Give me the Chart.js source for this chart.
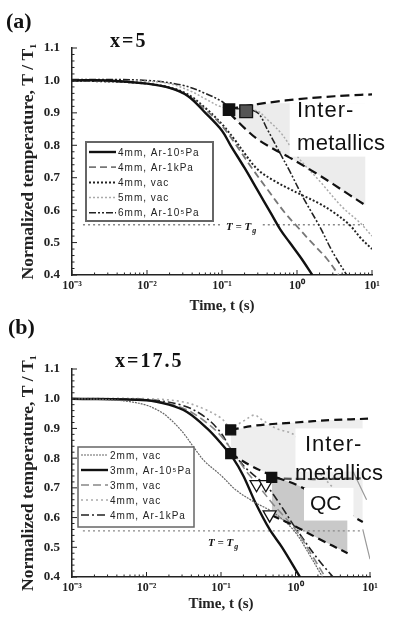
<!DOCTYPE html>
<html>
<head>
<meta charset="utf-8">
<script src="https://cdn.jsdelivr.net/npm/chart.js@4.4.1/dist/chart.umd.min.js"></script>
<style>
  body { margin: 0; background: #fff; width: 394px; height: 619px; position: relative; overflow: hidden; }
  canvas { position: absolute; left: 0; }
</style>
</head>
<body>
<canvas id="chartA" width="394" height="316" style="top:0"></canvas>
<canvas id="chartB" width="394" height="302" style="top:312px"></canvas>
<script>
// shared axis labels
const tickTimes = [0.001, 0.01, 0.1, 1, 10];
const tickText = ["10⁻³", "10⁻²", "10⁻¹", "10⁰", "10¹"];
const tgValue = 0.555;

// ---- (a) x=5 ----
const aSolidT = [0.001, 0.003, 0.01, 0.02, 0.035, 0.06, 0.1, 0.13, 0.2, 0.3, 0.45, 0.6, 0.8, 1.15, 1.6];
const aSolidV = [1.0, 1.0, 0.99, 0.977, 0.952, 0.9, 0.845, 0.8, 0.73, 0.66, 0.59, 0.54, 0.5, 0.45, 0.4];
const aDashT = [0.001, 0.01, 0.03, 0.06, 0.1, 0.15, 0.25, 0.4, 0.7, 1, 1.5, 2.5, 3.6];
const aDashV = [1.0, 0.99, 0.962, 0.91, 0.86, 0.805, 0.73, 0.665, 0.59, 0.55, 0.505, 0.45, 0.4];
const aVac4T = [0.001, 0.01, 0.03, 0.06, 0.1, 0.15, 0.2, 0.3, 0.5, 0.8, 1.2, 2, 3, 5, 7, 10];
const aVac4V = [1.0, 0.99, 0.965, 0.915, 0.865, 0.815, 0.775, 0.725, 0.69, 0.665, 0.645, 0.62, 0.595, 0.555, 0.515, 0.48];
const aVac5T = [0.001, 0.01, 0.02, 0.04, 0.06, 0.1, 0.2, 0.3, 0.4, 0.6, 0.8, 1.1, 2, 4, 7, 10];
const aVac5V = [1.0, 0.997, 0.99, 0.965, 0.943, 0.918, 0.91, 0.905, 0.88, 0.84, 0.8, 0.755, 0.69, 0.61, 0.56, 0.52];
const aAr6T = [0.001, 0.01, 0.03, 0.06, 0.1, 0.13, 0.2, 0.3, 0.4, 0.55, 0.8, 1.2, 2, 3, 4.6];
const aAr6V = [1.003, 1.0, 0.985, 0.96, 0.935, 0.915, 0.912, 0.9, 0.85, 0.79, 0.72, 0.64, 0.55, 0.47, 0.4];
// intermetallic boundaries
const aUpT = [0.125, 0.2, 0.3, 0.5, 1, 2, 5, 10];
const aUpV = [0.912, 0.92, 0.927, 0.934, 0.942, 0.948, 0.954, 0.957];
const aLowT = [0.125, 0.2, 0.3, 0.5, 0.8, 1.2, 2, 3, 5, 8.2];
const aLowV = [0.9, 0.853, 0.818, 0.787, 0.762, 0.738, 0.707, 0.681, 0.647, 0.615];
const aShadeTop = [0.912, 0.92, 0.927, 0.93, 0.93, 0.93, 0.93, 0.93, 0.93, 0.93];
const aSquareT = [0.124, 0.21];
const aSquareV = [0.91, 0.905];

// ---- (b) x=17.5 ----
const bVac2T = [0.001, 0.003, 0.006, 0.01, 0.015, 0.02, 0.03, 0.045, 0.06, 0.1, 0.16, 0.29, 0.45, 0.7, 1, 1.5, 2.3];
const bVac2V = [1.0, 0.997, 0.99, 0.978, 0.958, 0.935, 0.89, 0.83, 0.79, 0.742, 0.692, 0.65, 0.625, 0.59, 0.55, 0.48, 0.4];
const bSolidT = [0.001, 0.01, 0.02, 0.035, 0.065, 0.1, 0.145, 0.2, 0.29, 0.45, 0.66, 1.15];
const bSolidV = [1.0, 0.995, 0.98, 0.955, 0.9, 0.85, 0.8, 0.74, 0.65, 0.56, 0.5, 0.4];
const bVac3T = [0.001, 0.01, 0.03, 0.06, 0.1, 0.15, 0.22, 0.3, 0.5, 1, 1.6, 2.5];
const bVac3V = [1.0, 0.995, 0.97, 0.925, 0.875, 0.815, 0.755, 0.715, 0.645, 0.56, 0.48, 0.4];
const bVac4T = [0.001, 0.01, 0.03, 0.06, 0.1, 0.135, 0.2, 0.28, 0.35, 0.55, 1, 1.6, 2.2, 3.2, 4.5];
const bVac4V = [1.0, 1.0, 0.99, 0.965, 0.935, 0.905, 0.925, 0.945, 0.93, 0.9, 0.875, 0.79, 0.745, 0.7, 0.66];
const bAr4T = [0.001, 0.01, 0.03, 0.06, 0.1, 0.135, 0.2, 0.3, 0.4, 0.6, 1, 2, 3.2];
const bAr4V = [1.0, 0.997, 0.978, 0.94, 0.885, 0.83, 0.775, 0.735, 0.71, 0.65, 0.565, 0.46, 0.4];
const bOtherT = [5.8, 9, 9.5, 8, 10];
const bOtherV = [0.76, 0.66, null, 0.56, 0.46];
const bUpT = [0.135, 0.3, 1, 3, 10];
const bUpV = [0.895, 0.91, 0.92, 0.928, 0.933];
const bLowT = [0.135, 0.25, 0.5, 1.15, 3, 8];
const bLowV = [0.815, 0.775, 0.74, 0.705, 0.645, 0.585];
const bShadeTop = [0.895, 0.905, 0.915, 0.921, 0.928, 0.932];
const bQcUpT = [0.48, 1, 3, 7.5];
const bQcUpV = [0.732, 0.73, 0.73, 0.732];
const bQcLowT = [0.48, 1, 2, 5];
const bQcLowV = [0.608, 0.57, 0.53, 0.48];
const bQcTop = [0.73, 0.73, 0.73, 0.73];
const bSquareT = [0.135, 0.135, 0.48];
const bSquareV = [0.895, 0.815, 0.735];
const bTriT = [0.3, 0.4, 0.45];
const bTriV = [0.712, 0.712, 0.61];

const SERIF = "'Liberation Serif', 'Times New Roman', serif";
const SANS = "'Liberation Sans', Arial, sans-serif";

const pts = (t, v) => t.map((x, i) => ({ x: x, y: v[i] }));

function curve(label, t, v, color, width, dash, order) {
    return {
        label: label, data: pts(t, v), borderColor: color, borderWidth: width,
        borderDash: dash, pointRadius: 0, fill: false, tension: 0.35, order: order || 2
    };
}

function shade(t, v, color, toPrev) {
    return {
        label: "", data: pts(t, v), borderWidth: 0, pointRadius: 0, tension: 0,
        backgroundColor: color, fill: toPrev ? "-1" : false, order: toPrev ? 10 : 11
    };
}

function marks(t, v, style, size, fillColor, rot) {
    return {
        label: "", data: pts(t, v), showLine: false, pointStyle: style, pointRadius: size,
        pointBackgroundColor: fillColor, pointBorderColor: "#111", pointBorderWidth: 1.3,
        pointRotation: rot || 0, order: 0
    };
}

// **decor plugin: label boxes, texts, legend, inward ticks**
const decor = {
    id: "decor",
    afterDatasetsDraw(chart, args, o) {
        const { ctx, scales: { x, y } } = chart;
        ctx.save();
        (o.boxes || []).forEach(b => {
            const x0 = x.getPixelForValue(b.t0);
            const x1 = b.t1 ? x.getPixelForValue(b.t1) : chart.width;
            const y0 = y.getPixelForValue(b.v0), y1 = y.getPixelForValue(b.v1);
            ctx.fillStyle = "#fff";
            ctx.fillRect(x0, y0, x1 - x0, y1 - y0);
        });
        ctx.fillStyle = "#111";
        ctx.textBaseline = "alphabetic";
        (o.texts || []).forEach(tx => {
            ctx.font = tx.font;
            ctx.letterSpacing = tx.spacing || "0px";
            ctx.fillText(tx.text, tx.x, tx.y);
        });
        ctx.letterSpacing = "0px";

        // Tg label
        const g = o.tg;
        ctx.font = "italic bold 11px " + SERIF;
        const w1 = ctx.measureText("T = T").width;
        if (g.bg) {
            ctx.fillStyle = "#fff";
            ctx.fillRect(g.x - 3, g.y - 10, w1 + 12, 14);
        }
        ctx.fillStyle = "#111";
        ctx.fillText("T = T", g.x, g.y);
        ctx.font = "italic bold 8px " + SERIF;
        ctx.fillText("g", g.x + w1 + 1, g.y + 3);

        // legend
        const lg = o.legend;
        ctx.fillStyle = "#fff";
        ctx.fillRect(lg.x, lg.y, lg.w, lg.h);
        ctx.strokeStyle = "#666";
        ctx.lineWidth = lg.border;
        ctx.strokeRect(lg.x, lg.y, lg.w, lg.h);
        lg.items.forEach((di, i) => {
            const ds = chart.data.datasets[di];
            const yy = lg.y + lg.first + i * lg.step;
            ctx.strokeStyle = ds.borderColor;
            ctx.lineWidth = ds.borderWidth;
            ctx.setLineDash(ds.borderDash || []);
            ctx.beginPath();
            ctx.moveTo(lg.x + 3, yy);
            ctx.lineTo(lg.x + lg.sample, yy);
            ctx.stroke();
            ctx.setLineDash([]);
            ctx.fillStyle = "#222";
            ctx.font = "10px " + SANS;
            ctx.letterSpacing = "1px";
            ctx.fillText(ds.label, lg.x + lg.sample + 2, yy + 3.5);
            ctx.letterSpacing = "0px";
        });
        ctx.restore();
    },
    afterDraw(chart) {
        const { ctx, chartArea: ca, scales: { x, y } } = chart;
        ctx.save();
        ctx.strokeStyle = "#222";
        ctx.lineWidth = 1;
        ctx.beginPath();
        for (let e = -3; e <= 1; e++) {
            for (let s = 1; s <= 9; s++) {
                const v = s * Math.pow(10, e);
                if (v > 10.0001) break;
                const px = x.getPixelForValue(v);
                ctx.moveTo(px, ca.bottom);
                ctx.lineTo(px, ca.bottom - (s === 1 ? 5 : 2.5));
            }
        }
        for (let k = 0; k <= 35; k++) {
            const py = y.getPixelForValue(0.4 + k * 0.02);
            ctx.moveTo(ca.left, py);
            ctx.lineTo(ca.left + (k % 5 === 0 ? 5 : 2.5), py);
        }
        ctx.stroke();
        ctx.restore();
    }
};

function scales(yWidth, xHeight) {
    return {
        x: {
            type: "logarithmic", min: 0.001, max: 10,
            afterBuildTicks: s => { s.ticks = tickTimes.map(v => ({ value: v })); },
            afterFit: s => { s.height = xHeight; },
            grid: { display: false },
            border: { display: true, color: "#222", width: 1.5 },
            ticks: {
                autoSkip: false, maxRotation: 0, padding: -4, color: "#222",
                font: { family: SERIF, size: 12, weight: "bold" },
                callback: v => {
                    const i = tickTimes.findIndex(t => Math.abs(t - v) / t < 1e-6);
                    return i >= 0 ? tickText[i] : "";
                }
            },
            title: {
                display: true, text: "Time, t (s)", color: "#222", padding: { top: 0, bottom: 1 },
                font: { family: SERIF, size: 15, weight: "bold" }
            }
        },
        y: {
            min: 0.4, max: 1.1,
            afterFit: s => { s.width = yWidth; },
            grid: { display: false },
            border: { display: true, color: "#222", width: 1.5 },
            ticks: {
                stepSize: 0.1, padding: 4, color: "#222",
                font: { family: SERIF, size: 13, weight: "bold" },
                callback: v => v.toFixed(1)
            },
            title: {
                display: true, text: "Normalized temperature, T / T₁", color: "#222", padding: 0,
                font: { family: SERIF, size: 17.5, weight: "bold" }
            }
        }
    };
}

function tgLine() {
    return curve("", [0.0014, 7.8], [tgValue, tgValue], "#888", 1.3, [2, 3], 5);
}

// **Panel (a)**
new Chart(document.getElementById("chartA"), {
    type: "line",
    data: {
        datasets: [
            curve("4mm, Ar-10⁵Pa", aSolidT, aSolidV, "#111", 2.4, []),
            curve("4mm, Ar-1kPa", aDashT, aDashV, "#777", 1.8, [7, 4]),
            curve("4mm, vac", aVac4T, aVac4V, "#222", 2, [2, 2]),
            curve("5mm, vac", aVac5T, aVac5V, "#aaa", 1.5, [2, 2]),
            curve("6mm, Ar-10⁵Pa", aAr6T, aAr6V, "#222", 1.6, [7, 2, 2, 2, 2, 2]),
            curve("", aUpT, aUpV, "#111", 2.2, [9, 5], 1),
            curve("", aLowT, aLowV, "#111", 2.2, [9, 5], 1),
            tgLine(),
            shade(aLowT, aShadeTop, "#ececec", false),
            shade(aLowT, aLowV, "#ececec", true),
            marks(aSquareT.slice(0, 1), aSquareV.slice(0, 1), "rect", 8, "#111"),
            marks(aSquareT.slice(1), aSquareV.slice(1), "rect", 9, "#555")
        ]
    },
    options: {
        responsive: false, animation: false,
        layout: { padding: { left: 18, right: 22, top: 48, bottom: 0 } },
        scales: scales(54, 41),
        plugins: {
            legend: { display: false }, tooltip: { enabled: false },
            decor: {
                boxes: [{ t0: 0.8, v0: 0.93, v1: 0.765 }],
                texts: [
                    { text: "(a)", x: 6, y: 28, font: "bold 22px " + SERIF },
                    { text: "x=5", x: 110, y: 47, font: "bold 20px " + SERIF, spacing: "2px" },
                    { text: "Inter-", x: 297, y: 117, font: "22px " + SANS, spacing: "1px" },
                    { text: "metallics", x: 297, y: 150, font: "22px " + SANS, spacing: "0.3px" }
                ],
                tg: { x: 226, y: 230, bg: true },
                legend: { x: 86, y: 142, w: 127, h: 79, border: 2, first: 10, step: 15.2, sample: 30, items: [0, 1, 2, 3, 4] }
            }
        }
    },
    plugins: [decor]
});

// **Panel (b)**
new Chart(document.getElementById("chartB"), {
    type: "line",
    data: {
        datasets: [
            curve("2mm, vac", bVac2T, bVac2V, "#666", 1.2, [2, 1]),
            curve("3mm, Ar-10⁵Pa", bSolidT, bSolidV, "#111", 2.4, []),
            curve("3mm, vac", bVac3T, bVac3V, "#888", 1.6, [8, 4]),
            curve("4mm, vac", bVac4T, bVac4V, "#aaa", 1.6, [2, 3]),
            curve("4mm, Ar-1kPa", bAr4T, bAr4V, "#222", 1.6, [8, 3, 2, 3]),
            curve("", bOtherT, bOtherV, "#999", 1.2, []),
            curve("", bUpT, bUpV, "#111", 2.2, [8, 5], 1),
            curve("", bLowT, bLowV, "#111", 2.2, [8, 5], 1),
            curve("", bQcUpT, bQcUpV, "#555", 2.2, [8, 4], 1),
            curve("", bQcLowT, bQcLowV, "#111", 2.2, [8, 5], 1),
            tgLine(),
            shade(bLowT, bShadeTop, "#eeeeee", false),
            shade(bLowT, bLowV, "#eeeeee", true),
            shade(bQcLowT, bQcTop, "#c9c9c9", false),
            shade(bQcLowT, bQcLowV, "#c9c9c9", true),
            marks(bSquareT, bSquareV, "rect", 7, "#111"),
            marks(bTriT, bTriV, "triangle", 7.5, "#fff", 180)
        ]
    },
    options: {
        responsive: false, animation: false,
        layout: { padding: { left: 18, right: 24, top: 57, bottom: 0 } },
        scales: scales(54, 37),
        plugins: {
            legend: { display: false }, tooltip: { enabled: false },
            decor: {
                boxes: [
                    { t0: 1.0, v0: 0.9, v1: 0.755 },
                    { t0: 1.3, t1: 6, v0: 0.7, v1: 0.59 }
                ],
                texts: [
                    { text: "(b)", x: 8, y: 22, font: "bold 22px " + SERIF },
                    { text: "x=17.5", x: 115, y: 55, font: "bold 20px " + SERIF, spacing: "2px" },
                    { text: "Inter-", x: 305, y: 139, font: "22px " + SANS, spacing: "1px" },
                    { text: "metallics", x: 295, y: 168, font: "22px " + SANS, spacing: "0.3px" },
                    { text: "QC", x: 310, y: 198, font: "21px " + SANS }
                ],
                tg: { x: 208, y: 234, bg: false },
                legend: { x: 78, y: 135, w: 116, h: 80, border: 1.5, first: 8, step: 15, sample: 30, items: [0, 1, 2, 3, 4] }
            }
        }
    },
    plugins: [decor]
});
</script>
</body>
</html>
